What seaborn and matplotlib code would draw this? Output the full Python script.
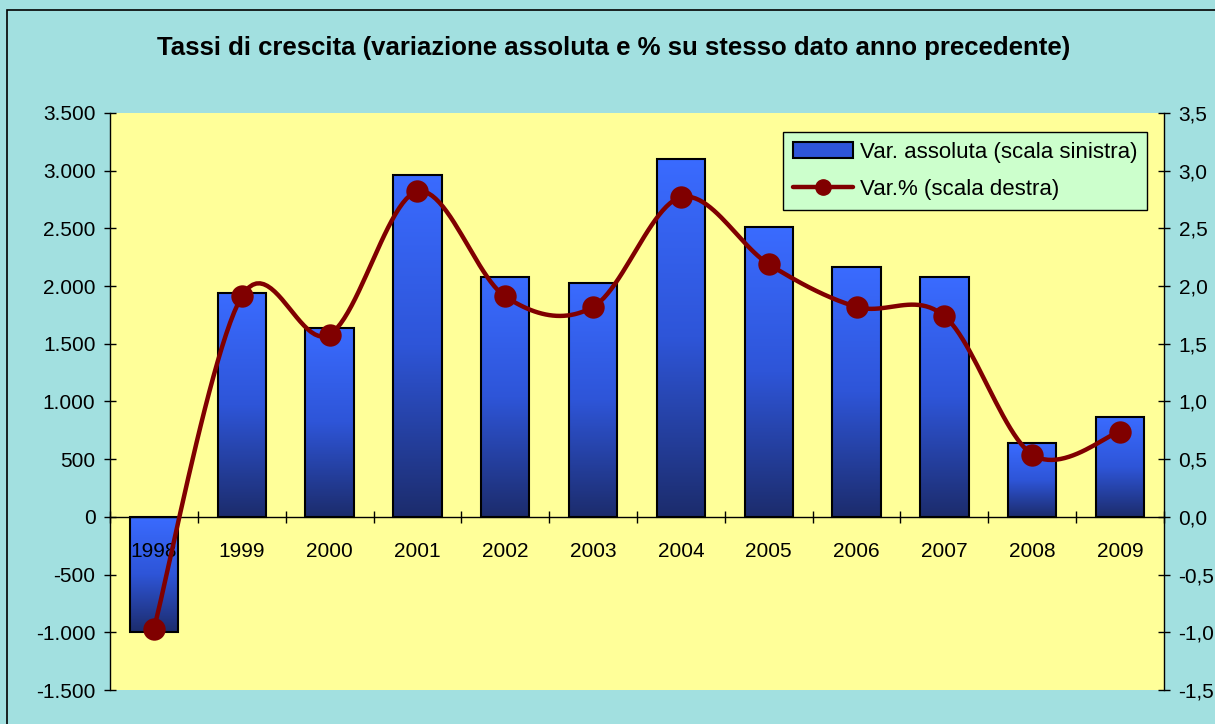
import numpy as np
import matplotlib
matplotlib.use("Agg")
import matplotlib.pyplot as plt
import seaborn as sns
from matplotlib.colors import LinearSegmentedColormap
from matplotlib.patches import Patch, Rectangle
from matplotlib.lines import Line2D
from matplotlib.ticker import FuncFormatter, MultipleLocator, FixedLocator

# ---- data ----
years = ["1998", "1999", "2000", "2001", "2002", "2003", "2004", "2005", "2006", "2007", "2008", "2009"]
var_abs = [-1000, 1940, 1640, 2965, 2075, 2025, 3105, 2510, 2165, 2075, 640, 862]
var_pct = [-0.97, 1.91, 1.58, 2.82, 1.91, 1.82, 2.77, 2.19, 1.82, 1.74, 0.54, 0.74]
title = "Tassi di crescita (variazione assoluta e % su stesso dato anno precedente)"
label_abs = "Var. assoluta (scala sinistra)"
label_pct = "Var.% (scala destra)"

BG = "#A2E0E0"
PLOT_BG = "#FFFF99"
LINE_C = "#800000"
FS = 15

sns.set_theme(style="white")
plt.rcParams["font.family"] = ["Liberation Sans", "DejaVu Sans"]
plt.rcParams["text.color"] = "black"
plt.rcParams["xtick.color"] = "black"
plt.rcParams["ytick.color"] = "black"
plt.rcParams["axes.labelcolor"] = "black"

fig = plt.figure(figsize=(12.15, 7.24), dpi=100, facecolor=BG)
ax = fig.add_axes([110/1215, 34/724, 1054/1215, 577/724])
ax.set_facecolor(PLOT_BG)
ax.set_axisbelow(False)

sns.barplot(x=years, y=var_abs, ax=ax, width=0.55, color="#3366FF", saturation=1)

ax.set_ylim(-1500, 3500)
ax.set_xlim(-0.5, len(years) - 0.5)

# gradient fill for bars
cmap = LinearSegmentedColormap.from_list("g", ["#3A6BFF", "#2E55D8", "#1C2C6C"])
grad = np.linspace(0, 1, 256).reshape(-1, 1)
for p in ax.patches:
    x0, y0 = p.get_x(), p.get_y()
    w, h = p.get_width(), p.get_height()
    ylo, yhi = min(y0, y0 + h), max(y0, y0 + h)
    im = ax.imshow(grad, extent=[x0, x0 + w, ylo, yhi], origin="upper",
                   aspect="auto", cmap=cmap, zorder=1.5)
    im.set_clip_path(p)
    p.set_facecolor("none")
    p.set_edgecolor("black")
    p.set_linewidth(1.5)
    p.set_zorder(2)
ax.set_ylim(-1500, 3500)
ax.set_xlim(-0.5, len(years) - 0.5)

# spines
for s in ["top", "right"]:
    ax.spines[s].set_visible(False)
ax.spines["bottom"].set_position(("data", 0))
ax.spines["bottom"].set_color("black")
ax.spines["bottom"].set_linewidth(1)
ax.spines["left"].set_color("black")
ax.spines["left"].set_linewidth(1)

ax.yaxis.set_major_locator(MultipleLocator(500))
ax.yaxis.set_major_formatter(FuncFormatter(lambda v, _: f"{int(round(v)):,}".replace(",", ".")))
ax.tick_params(axis="y", direction="inout", length=9, width=1, color="black",
               labelsize=FS, pad=6, left=True, labelcolor="black")
ax.set_xticks(range(len(years)))
ax.set_xticklabels(years)
ax.xaxis.set_minor_locator(FixedLocator([i + 0.5 for i in range(-1, len(years))]))
ax.tick_params(axis="x", which="major", length=0, labelsize=FS, pad=18, bottom=True,
               labelcolor="black")
ax.tick_params(axis="x", which="minor", direction="inout", length=9, width=1,
               color="black", bottom=True)
ax.set_xlabel("")
ax.set_ylabel("")
ax.grid(False)

# right axis with smoothed line
ax2 = ax.twinx()
ax2.set_ylim(-1.5, 3.5)
ax2.set_xlim(-0.5, len(years) - 0.5)


def catmull(xs, ys, n=24):
    xs = np.asarray(xs, float)
    ys = np.asarray(ys, float)
    P = np.column_stack([xs, ys])
    P = np.vstack([P[0], P, P[-1]])
    out = []
    for i in range(1, len(P) - 2):
        p0, p1, p2, p3 = P[i - 1], P[i], P[i + 1], P[i + 2]
        t = np.linspace(0, 1, n, endpoint=False)[:, None]
        c1 = p1 + (p2 - p0) / 6
        c2 = p2 - (p3 - p1) / 6
        b = ((1 - t) ** 3) * p1 + 3 * ((1 - t) ** 2) * t * c1 + 3 * (1 - t) * t ** 2 * c2 + t ** 3 * p2
        out.append(b)
    out.append(P[-2][None, :])
    return np.vstack(out)


xpos = np.arange(len(years))
sm = catmull(xpos, var_pct)
ax2.plot(sm[:, 0], sm[:, 1], color=LINE_C, lw=3.2, zorder=3)
sns.scatterplot(x=xpos, y=var_pct, ax=ax2, color=LINE_C, s=260, edgecolor=LINE_C,
                linewidth=0, zorder=4, legend=False)

for s in ["top", "left", "bottom"]:
    ax2.spines[s].set_visible(False)
ax2.spines["right"].set_color("black")
ax2.spines["right"].set_linewidth(1)
ax2.yaxis.set_major_locator(MultipleLocator(0.5))
ax2.yaxis.set_major_formatter(FuncFormatter(lambda v, _: f"{v:.1f}".replace(".", ",")))
ax2.tick_params(axis="y", direction="inout", length=9, width=1, color="black",
                labelsize=FS, pad=6, right=True, labelcolor="black")
ax2.set_ylabel("")
ax2.grid(False)

handles = [Patch(facecolor="#2E55D8", edgecolor="black", linewidth=1.5, label=label_abs),
           Line2D([0], [0], color=LINE_C, lw=3.2, marker="o", markersize=11, label=label_pct)]
leg = ax2.legend(handles=handles, loc="upper right", bbox_to_anchor=(0.984, 0.967),
                 frameon=True, fancybox=False, fontsize=16, borderpad=0.45,
                 handlelength=2.7, handletextpad=0.3, labelspacing=0.7,
                 borderaxespad=0)
leg.get_frame().set_facecolor("#CCFFCC")
leg.get_frame().set_edgecolor("black")
leg.get_frame().set_linewidth(1)
leg.get_frame().set_alpha(1)
for t in leg.get_texts():
    t.set_color("black")

fig.text(614/1215, 1 - 48/724, title, ha="center", va="center",
         fontsize=18.5, fontweight="bold", color="black")

# outer chart border
fig.add_artist(Rectangle((7/1215, -0.1), 1.2, 1 - 10/724 + 0.1, transform=fig.transFigure,
                         fill=False, edgecolor="black", linewidth=1.2))

fig.savefig("out.png", dpi=100, facecolor=BG)
